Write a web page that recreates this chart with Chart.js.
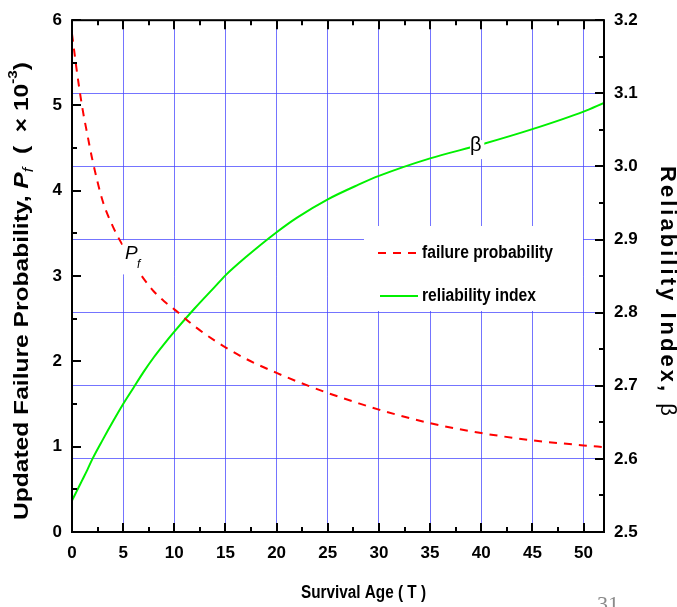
<!DOCTYPE html>
<html>
<head>
<meta charset="utf-8">
<script src="https://cdn.jsdelivr.net/npm/chart.js@4"></script>
<style>
  html, body { margin: 0; padding: 0; background: #fff; }
  canvas { display: block; }
</style>
</head>
<body>
<canvas id="chart" width="677" height="607"></canvas>
<script>
// ── Data ──────────────────────────────────────────────────────────────────────
const survivalAge = [0, 0.5, 1, 1.5, 2, 3, 4, 5, 6, 7, 8, 9, 10, 12, 14, 15, 17, 20, 22, 25, 28, 30, 35, 40, 45, 50, 52];
// updated failure probability, x 10^-3 (left axis)
const failureProb = [5.84, 5.38, 4.98, 4.66, 4.36, 3.88, 3.58, 3.35, 3.15, 2.97, 2.82, 2.705, 2.61, 2.41, 2.24, 2.165, 2.03, 1.865, 1.765, 1.63, 1.51, 1.435, 1.275, 1.16, 1.075, 1.015, 0.995];
// reliability index beta (right axis)
const reliability = [2.543, 2.557, 2.571, 2.585, 2.600, 2.626, 2.651, 2.675, 2.697, 2.719, 2.739, 2.757, 2.774, 2.806, 2.836, 2.851, 2.876, 2.910, 2.930, 2.955, 2.975, 2.987, 3.011, 3.030, 3.051, 3.075, 3.087];

const xTicks = [0, 5, 10, 15, 20, 25, 30, 35, 40, 45, 50];
const pfTicks = [0, 1, 2, 3, 4, 5, 6];
const betaTicks = [2.5, 2.6, 2.7, 2.8, 2.9, 3.0, 3.1, 3.2];

const GRID = 'rgba(70,70,255,0.75)';
const SANS = '"Liberation Sans", Arial, sans-serif';

// draw text squeezed/stretched horizontally to a given width (stand-in for Arial Narrow)
function fitText(ctx, text, x, y, width, font) {
    ctx.font = font;
    const w = ctx.measureText(text).width;
    ctx.save();
    ctx.translate(x, y);
    ctx.scale(width / w, 1);
    ctx.fillText(text, 0, 0);
    ctx.restore();
}

// ── Decorations: frame, inward ticks, labels, legend, axis titles ─────────────
const decor = {
    id: 'decor',
    afterDatasetsDraw(chart) {
        const { ctx, chartArea: a, scales: { x, y, y2 } } = chart;
        ctx.save();

        // white boxes behind the in-plot labels
        ctx.fillStyle = '#fff';
        const px0 = x.getPixelForValue(4.95), px1 = x.getPixelForValue(7.2);
        const py0 = y.getPixelForValue(3.42), py1 = y.getPixelForValue(3.02);
        ctx.fillRect(px0, py0, px1 - px0, py1 - py0);
        const bx0 = x.getPixelForValue(38.9), bx1 = x.getPixelForValue(40.3);
        const by0 = y2.getPixelForValue(3.036), by1 = y2.getPixelForValue(3.01);
        ctx.fillRect(bx0, by0, bx1 - bx0, by1 - by0);
        // legend box
        ctx.fillRect(364, 226, 219, 50);
        ctx.fillRect(362, 276, 190, 35);

        // P_f label
        ctx.fillStyle = '#000';
        ctx.textBaseline = 'alphabetic';
        ctx.textAlign = 'left';
        ctx.font = 'italic 19px ' + SANS;
        ctx.fillText('P', 125, 259);
        ctx.font = 'italic 12px ' + SANS;
        ctx.fillText('f', 137, 268);
        // beta label
        ctx.font = '20px ' + SANS;
        ctx.fillText('β', 470, 151);

        // legend
        ctx.lineWidth = 2;
        ctx.strokeStyle = '#ff0000';
        ctx.setLineDash([8, 7]);
        ctx.beginPath(); ctx.moveTo(378, 253); ctx.lineTo(419, 253); ctx.stroke();
        ctx.setLineDash([]);
        ctx.strokeStyle = '#00f000';
        ctx.beginPath(); ctx.moveTo(380, 296); ctx.lineTo(418, 296); ctx.stroke();
        ctx.fillStyle = '#000';
        ctx.textBaseline = 'middle';
        fitText(ctx, 'failure probability', 422, 253, 131, 'bold 18px ' + SANS);
        fitText(ctx, 'reliability index', 422, 296, 114, 'bold 18px ' + SANS);

        // frame
        ctx.strokeStyle = '#000';
        ctx.lineWidth = 2;
        ctx.strokeRect(a.left, a.top, a.right - a.left, a.bottom - a.top);

        // inward ticks
        ctx.beginPath();
        for (let v = 0; v <= 6.001; v += 0.5) {
            const p = Math.round(y.getPixelForValue(v));
            const len = Math.abs(v - Math.round(v)) < 1e-6 ? 9 : 5;
            ctx.moveTo(a.left, p); ctx.lineTo(a.left + len, p);
        }
        for (let v = 0; v <= 52; v += 2.5) {
            const p = Math.round(x.getPixelForValue(v));
            const len = v % 5 === 0 ? 9 : 5;
            ctx.moveTo(p, a.bottom); ctx.lineTo(p, a.bottom - len);
            ctx.moveTo(p, a.top); ctx.lineTo(p, a.top + len);
        }
        for (let i = 0; i <= 14; i++) {
            const p = Math.round(y2.getPixelForValue(2.5 + i * 0.05));
            const len = i % 2 === 0 ? 9 : 5;
            ctx.moveTo(a.right, p); ctx.lineTo(a.right - len, p);
        }
        ctx.stroke();
        ctx.restore();
    },
    afterDraw(chart) {
        const { ctx } = chart;
        ctx.save();
        ctx.fillStyle = '#000';
        ctx.textBaseline = 'middle';
        ctx.textAlign = 'left';

        // x title
        fitText(ctx, 'Survival Age ( T )', 301, 593, 125, 'bold 18px ' + SANS);

        // left title (rich text, rotated)
        const parts = [
            { t: 'Updated Failure Probability, ', f: 'bold 21px ' + SANS, dy: 0 },
            { t: 'P', f: 'italic bold 21px ' + SANS, dy: 0 },
            { t: 'f', f: 'italic 14px ' + SANS, dy: 7 },
            { t: '  (  × 10', f: 'bold 21px ' + SANS, dy: 0 },
            { t: '-3', f: 'bold 13px ' + SANS, dy: -9 },
            { t: ')', f: 'bold 21px ' + SANS, dy: 0 }
        ];
        let total = 0;
        parts.forEach(p => { ctx.font = p.f; p.w = ctx.measureText(p.t).width; total += p.w; });
        ctx.save();
        ctx.translate(22, 291);
        ctx.rotate(-Math.PI / 2);
        ctx.scale(458 / total, 1);
        let cx = -total / 2;
        parts.forEach(p => { ctx.font = p.f; ctx.fillText(p.t, cx, p.dy); cx += p.w; });
        ctx.restore();

        // right title, spread out to the reference length
        ctx.save();
        ctx.translate(667, 291);
        ctx.rotate(Math.PI / 2);
        const r1 = 'Reliability Index, ';
        ctx.font = 'bold 22px ' + SANS;
        const w1 = ctx.measureText(r1).width;
        ctx.font = '22px ' + SANS;
        const w2 = ctx.measureText('β').width;
        const gap = Math.max(0, (250 - w1 - w2) / r1.length);
        let rx = -(w1 + w2 + gap * r1.length) / 2;
        ctx.font = 'bold 22px ' + SANS;
        for (const ch of r1) {
            ctx.fillText(ch, rx, 0);
            rx += ctx.measureText(ch).width + gap;
        }
        ctx.font = '22px ' + SANS;
        ctx.fillText('β', rx, 0);
        ctx.restore();

        // page number
        ctx.fillStyle = '#8a8a8a';
        ctx.font = '22px "Liberation Serif", serif';
        ctx.textBaseline = 'alphabetic';
        ctx.fillText('31', 597, 611);
        ctx.restore();
    }
};

function fixedTicks(values) {
    return scale => { scale.ticks = values.map(v => ({ value: v })); };
}

const tickFont = { family: SANS, size: 17, weight: 'bold' };

new Chart(document.getElementById('chart'), {
    type: 'line',
    data: {
        datasets: [
            {
                label: 'failure probability',
                data: survivalAge.map((t, i) => ({ x: t, y: failureProb[i] })),
                yAxisID: 'y',
                borderColor: '#ff0000',
                borderWidth: 2,
                borderDash: [8, 7],
                pointRadius: 0,
                cubicInterpolationMode: 'monotone'
            },
            {
                label: 'reliability index',
                data: survivalAge.map((t, i) => ({ x: t, y: reliability[i] })),
                yAxisID: 'y2',
                borderColor: '#00f000',
                borderWidth: 2,
                pointRadius: 0,
                cubicInterpolationMode: 'monotone'
            }
        ]
    },
    options: {
        responsive: false,
        animation: false,
        layout: { padding: { top: 14, left: 0, right: 0, bottom: 0 } },
        plugins: { legend: { display: false }, tooltip: { enabled: false } },
        scales: {
            x: {
                type: 'linear',
                min: 0, max: 52,
                afterBuildTicks: fixedTicks(xTicks),
                afterFit: s => { s.height = 75; },
                grid: { color: GRID, lineWidth: 1, drawTicks: false },
                border: { display: false },
                ticks: { padding: 11, color: '#000', font: tickFont, maxRotation: 0 }
            },
            y: {
                position: 'left',
                min: 0, max: 6,
                afterBuildTicks: fixedTicks(pfTicks),
                afterFit: s => { s.width = 72; },
                grid: { display: false, drawTicks: false },
                border: { display: false },
                ticks: { padding: 10, color: '#000', font: tickFont }
            },
            y2: {
                position: 'right',
                min: 2.5, max: 3.2,
                afterBuildTicks: fixedTicks(betaTicks),
                afterFit: s => { s.width = 73; },
                grid: { color: GRID, lineWidth: 1, drawTicks: false },
                border: { display: false },
                ticks: { padding: 10, color: '#000', font: tickFont, callback: v => v.toFixed(1) }
            }
        }
    },
    plugins: [decor]
});
</script>
</body>
</html>
